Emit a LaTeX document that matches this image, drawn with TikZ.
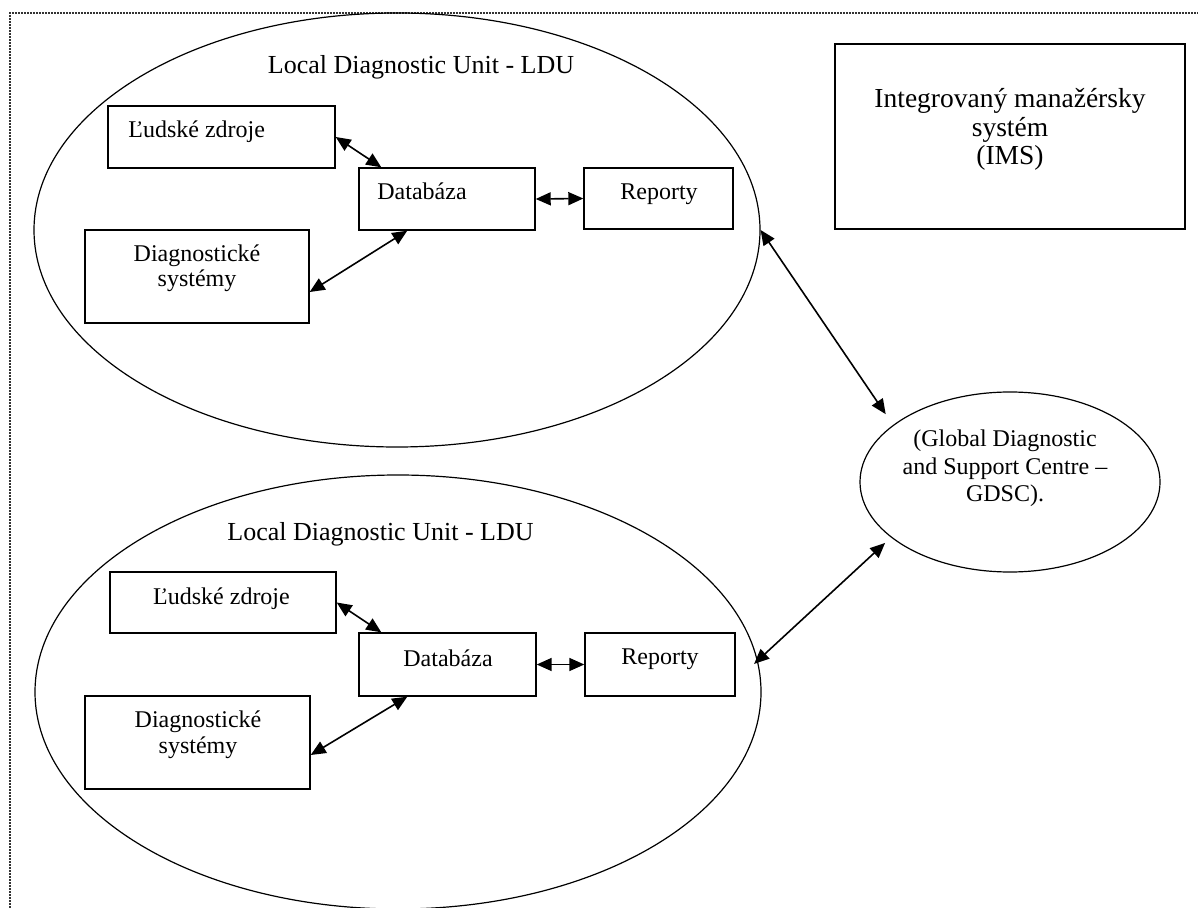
\documentclass[tikz,border=0pt]{standalone}
\usepackage{fontspec}
\setmainfont{Liberation Serif}
\usetikzlibrary{arrows.meta,shapes.geometric}

\tikzset{
  unit/.style={draw, ellipse, line width=0.6pt, minimum width=363pt, minimum height=217pt, inner sep=0pt},
  box/.style={draw, rectangle, line width=0.7pt, inner sep=0pt},
  txt/.style={inner sep=0pt, font=\fontsize{12}{13.75}\selectfont},
  ttl/.style={inner sep=0pt, font=\fontsize{13}{15}\selectfont},
  biarrow/.style={line width=0.8pt, {Triangle[length=7.5pt,width=6.5pt]}-{Triangle[length=7.5pt,width=6.5pt]}},
  frame/.style={line width=1pt, black!80, dash pattern=on 0.8pt off 0.7pt}
}

\begin{document}
\begin{tikzpicture}[x=0.5pt, y=-0.5pt]
  \useasboundingbox (0,0) rectangle (1198,908);
  \draw[frame] (10,908) -- (10,13) -- (1198,13);

  % upper unit
  \node[unit] (ldua) at (397,230) {};
  \node[ttl, anchor=base] (ttla) at (421,74) {Local Diagnostic Unit - LDU};
  \node[box, minimum width=113.5pt, minimum height=31pt] (hra) at (221.5,137) {};
  \node[txt, anchor=base west] (hrat) at (128,138) {Ľudské zdroje};
  \node[box, minimum width=88pt, minimum height=31pt] (dba) at (447,199) {};
  \node[txt, anchor=base west] (dbat) at (377,200) {Databáza};
  \node[box, minimum width=74.5pt, minimum height=30.5pt] (repa) at (658.5,198.5) {};
  \node[txt, anchor=base] (repat) at (659,200) {Reporty};
  \node[box, minimum width=112pt, minimum height=46.5pt] (dsa) at (197,276.5) {};
  \node[txt, font=\fontsize{12}{12.75}\selectfont, align=center, anchor=base] (dsat) at (197,287) {Diagnostické\\systémy};

  % lower unit
  \node[unit] (ldub) at (398,692) {};
  \node[ttl, anchor=base] (ttlb) at (380.5,540) {Local Diagnostic Unit - LDU};
  \node[box, minimum width=113pt, minimum height=30.5pt] (hrb) at (223,602.5) {};
  \node[txt, anchor=base] (hrbt) at (221.5,604) {Ľudské zdroje};
  \node[box, minimum width=88.5pt, minimum height=31.5pt] (dbb) at (447.5,664.5) {};
  \node[txt, anchor=base] (dbbt) at (448,666) {Databáza};
  \node[box, minimum width=75pt, minimum height=31.5pt] (repb) at (660,664.5) {};
  \node[txt, anchor=base] (repbt) at (660,664) {Reporty};
  \node[box, minimum width=112.5pt, minimum height=46.5pt] (dsb) at (197.5,742.5) {};
  \node[txt, font=\fontsize{12}{12.75}\selectfont, align=center, anchor=base] (dsbt) at (198,753) {Diagnostické\\systémy};

  % right side
  \node[box, minimum width=175pt, minimum height=92.5pt] (ims) at (1010,136.5) {};
  \node[txt, font=\fontsize{13.75}{14.25}\selectfont, align=center, anchor=base] (imst) at (1010,165) {Integrovaný manažérsky\\systém\\(IMS)};
  \node[draw, ellipse, line width=0.6pt, minimum width=150pt, minimum height=90pt, inner sep=0pt] (gdsc) at (1010,482) {};
  \node[txt, align=center, anchor=base] (gdsct) at (1005,502) {(Global Diagnostic\\and Support Centre –\\GDSC).};

  % connectors
  \draw[biarrow] (hra.east) -- ([shift={(23,0)}]dba.north west);
  \draw[biarrow] ([shift={(49,0)}]dba.south west) -- ([shift={(0,15.5)}]dsa.east);
  \draw[biarrow] (dba.east) -- (repa.west);
  \draw[biarrow] (hrb.east) -- ([shift={(23,0)}]dbb.north west);
  \draw[biarrow] ([shift={(49,0)}]dbb.south west) -- ([shift={(0,12.5)}]dsb.east);
  \draw[biarrow] (dbb.east) -- (repb.west);
  \draw[biarrow, shorten >=6.5pt] (ldua.east) -- (gdsc.154);
  \draw[biarrow, shorten <=-2.5pt, shorten >=4pt] (ldub.5) -- (gdsc.205);
\end{tikzpicture}
\end{document}
